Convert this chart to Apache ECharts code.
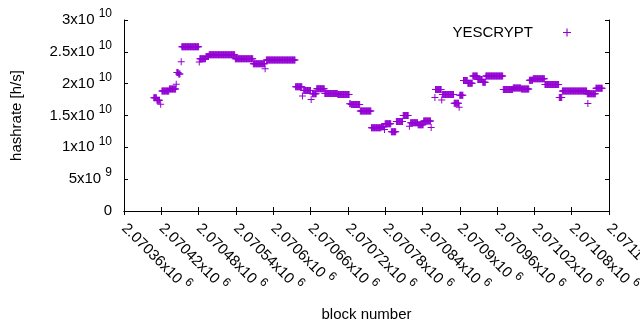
<!DOCTYPE html>
<html>
<head>
<meta charset="utf-8">
<script src="https://cdn.jsdelivr.net/npm/echarts@6/dist/echarts.min.js"></script>
<style>
  html, body { margin: 0; padding: 0; background: #fff; }
  #myChart { width: 640px; height: 330px; }
</style>
</head>
<body>
<div id="myChart"></div>
<script>
// runs of consecutive blocks that share the same hashrate estimate
var runFirst = [2070408, 2070413, 2070419, 2070421, 2070433, 2070444, 2070445, 2070448, 2070452, 2070453,
    2070481, 2070482, 2070492, 2070497, 2070539, 2070568, 2070587, 2070589, 2070636, 2070647,
    2070649, 2070661, 2070663, 2070670, 2070683, 2070704, 2070723, 2070726, 2070740, 2070758,
    2070774, 2070779, 2070780, 2070790, 2070798, 2070809, 2070819, 2070821, 2070833, 2070842,
    2070854, 2070860, 2070861, 2070871, 2070872, 2070891, 2070899, 2070900, 2070906, 2070913,
    2070921, 2070929, 2070937, 2070942, 2070970, 2070986, 2070999, 2071012, 2071018, 2071037,
    2071060, 2071065, 2071105, 2071106, 2071119];
var runLast = [2070412, 2070417, 2070419, 2070432, 2070443, 2070444, 2070447, 2070450, 2070452, 2070480,
    2070481, 2070491, 2070496, 2070538, 2070567, 2070586, 2070587, 2070635, 2070646, 2070647,
    2070660, 2070661, 2070669, 2070682, 2070703, 2070722, 2070724, 2070739, 2070757, 2070773,
    2070778, 2070779, 2070789, 2070797, 2070808, 2070817, 2070819, 2070832, 2070841, 2070853,
    2070854, 2070860, 2070870, 2070871, 2070890, 2070898, 2070899, 2070905, 2070912, 2070920,
    2070928, 2070936, 2070941, 2070969, 2070985, 2070998, 2071011, 2071017, 2071036, 2071059,
    2071064, 2071104, 2071118, 2071106, 2071129];
var runHash = [1.778e10, 1.739e10, 1.676e10, 1.885e10, 1.916e10, 1.990e10, 2.175e10, 2.150e10, 2.345e10, 2.580e10,
    2.339e10, 2.392e10, 2.428e10, 2.456e10, 2.392e10, 2.314e10, 2.236e10, 2.373e10, 1.950e10, 1.806e10,
    1.892e10, 1.751e10, 1.841e10, 1.922e10, 1.844e10, 1.828e10, 1.684e10, 1.673e10, 1.571e10, 1.308e10,
    1.324e10, 1.280e10, 1.371e10, 1.245e10, 1.405e10, 1.499e10, 1.332e10, 1.386e10, 1.355e10, 1.415e10,
    1.311e10, 1.781e10, 1.907e10, 1.744e10, 1.828e10, 1.692e10, 1.629e10, 1.817e10, 2.048e10, 2.005e10,
    2.120e10, 2.065e10, 2.021e10, 2.120e10, 1.907e10, 1.932e10, 1.916e10, 2.052e10, 2.079e10, 1.985e10,
    1.781e10, 1.885e10, 1.841e10, 1.687e10, 1.927e10];

var points = [];
for (var i = 0; i < runFirst.length; i++) {
    for (var b = runFirst[i]; b <= runLast[i]; b++) {
        points.push([b, runHash[i]]);
    }
}

var purple = '#9400d3';
var plus = 'path://M3,0h1v3h3v1h-3v3h-1v-3h-3v-1h3z';
var font = 'Liberation Sans, Arial, sans-serif';

// gnuplot style "2.5x10^10"
function sci(v) {
    if (v === 0) return '{m|0}';
    var e = Math.floor(Math.log10(Math.abs(v)) + 1e-9);
    var m = +(v / Math.pow(10, e)).toFixed(6);
    return '{m|' + m + 'x10 }{e|' + e + '}';
}
var rich = {
    m: { fontSize: 15, lineHeight: 24, color: '#000', fontFamily: font },
    e: { fontSize: 12, lineHeight: 12, verticalAlign: 'top', color: '#000', fontFamily: font }
};

var myChart = echarts.init(document.getElementById('myChart'));
var option = {
    animation: false,
    textStyle: { fontFamily: font },
    legend: {
        data: ['YESCRYPT'],
        right: 64,
        top: 20,
        align: 'right',
        itemWidth: 58,
        itemHeight: 8,
        icon: plus,
        textStyle: { fontSize: 15, color: '#000', fontFamily: font }
    },
    grid: { left: 124, right: 31, top: 20, bottom: 119, containLabel: false, outerBoundsMode: 'none' },
    xAxis: [{
        type: 'value',
        min: 2070360,
        max: 2071140,
        interval: 60,
        name: 'block number',
        nameLocation: 'middle',
        nameGap: 96,
        nameTextStyle: { fontSize: 15, color: '#000', fontFamily: font },
        axisLine: { lineStyle: { color: '#000', width: 1 } },
        axisTick: { inside: true, length: 4, lineStyle: { color: '#000' } },
        splitLine: { show: false },
        axisLabel: { rotate: -45, margin: 15, formatter: sci, rich: rich, showMinLabel: true, showMaxLabel: true }
    }, {
        type: 'value',
        position: 'top',
        min: 2070360,
        max: 2071140,
        interval: 60,
        axisLine: { lineStyle: { color: '#000', width: 1 } },
        axisTick: { inside: true, length: 4, lineStyle: { color: '#000' } },
        splitLine: { show: false },
        axisLabel: { show: false }
    }],
    yAxis: [{
        type: 'value',
        min: 0,
        max: 3e10,
        interval: 5e9,
        name: 'hashrate [h/s]',
        nameLocation: 'middle',
        nameGap: 100,
        nameTextStyle: { fontSize: 15, color: '#000', fontFamily: font },
        axisLine: { show: true, lineStyle: { color: '#000', width: 1 } },
        axisTick: { show: true, inside: true, length: 4, lineStyle: { color: '#000' } },
        splitLine: { show: false },
        axisLabel: { margin: 12, formatter: sci, rich: rich }
    }, {
        type: 'value',
        position: 'right',
        min: 0,
        max: 3e10,
        interval: 5e9,
        axisLine: { show: true, lineStyle: { color: '#000', width: 1 } },
        axisTick: { show: true, inside: true, length: 4, lineStyle: { color: '#000' } },
        splitLine: { show: false },
        axisLabel: { show: false }
    }],
    series: [{
        name: 'YESCRYPT',
        type: 'scatter',
        xAxisIndex: 0,
        yAxisIndex: 0,
        symbol: plus,
        symbolSize: 7,
        itemStyle: { color: purple, opacity: 1 },
        data: points
    }]
};
myChart.setOption(option);
</script>
</body>
</html>
